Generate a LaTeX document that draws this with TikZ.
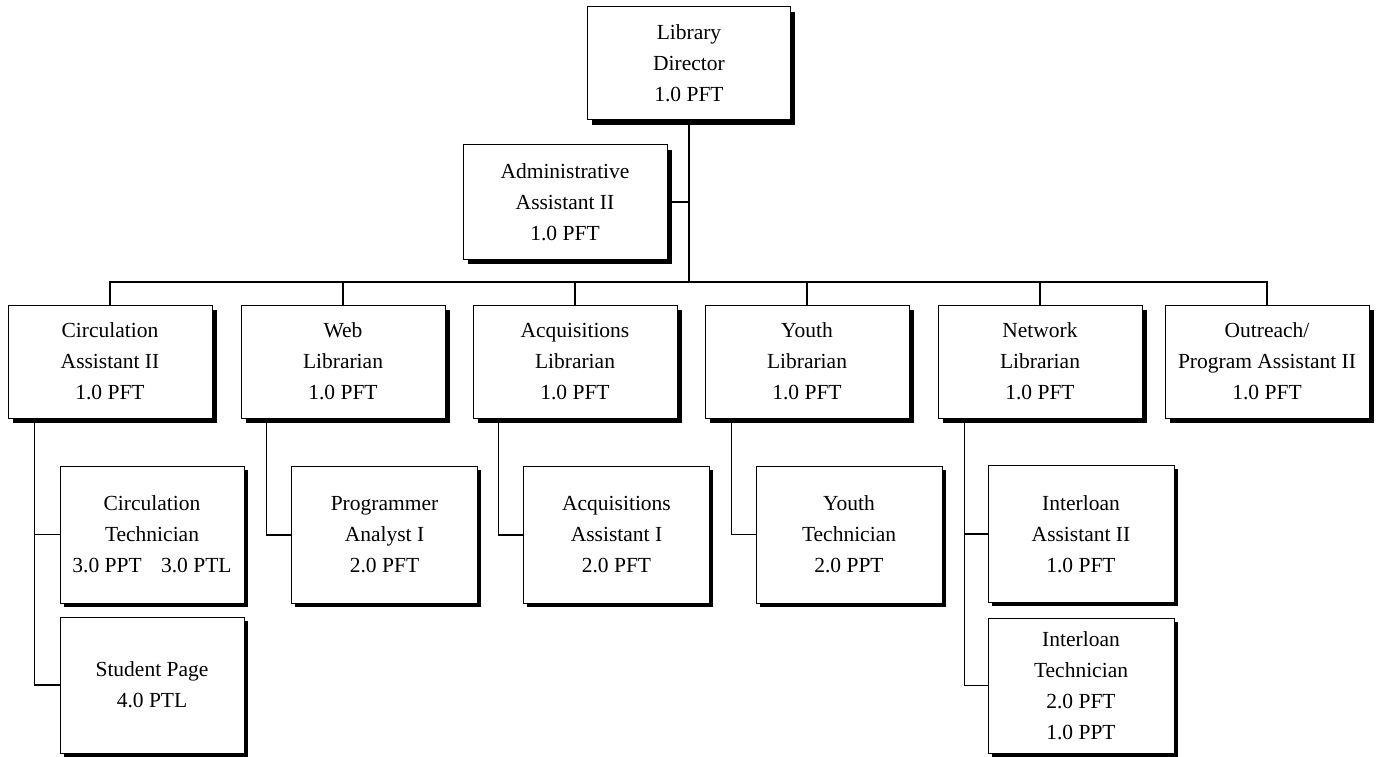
\documentclass[tikz,border=0pt]{standalone}
\usepackage{fontspec}
\setmainfont{Liberation Serif}
\usetikzlibrary{calc,shadows}
\begin{document}
\begin{tikzpicture}[x=1pt,y=-1pt,
  base/.style={rectangle, draw=black, line width=1pt, fill=white, inner sep=0pt, align=center,
    font=\fontsize{21.5}{31}\selectfont,
    preaction={draw=white, line width=3.2pt}},
  topbox/.style={base, minimum width=204pt, minimum height=113pt,
    drop shadow={shadow xshift=4.8pt, shadow yshift=-4.8pt, opacity=1, fill=black}},
  subbox/.style={base, minimum width=186pt, minimum height=137pt,
    drop shadow={shadow xshift=3.8pt, shadow yshift=-3.8pt, opacity=1, fill=black}},
  conn/.style={draw=black, line width=1.3pt}]
\useasboundingbox[fill=white] (0,0) rectangle (1377,757);

% level 0/1
\node[topbox, minimum width=203pt] (dir) at (689,63.5) {Library\\Director\\1.0 PFT};
\node[topbox, minimum height=114pt] (adm) at (565,202) {Administrative\\Assistant II\\1.0 PFT};

% level 2
\node[topbox] (circ)  at (110,361.5)  {Circulation\\Assistant II\\1.0 PFT};
\node[topbox] (web)   at (343,361.5) {Web\\Librarian\\1.0 PFT};
\node[topbox] (acq)   at (575,361.5)  {Acquisitions\\Librarian\\1.0 PFT};
\node[topbox] (youth) at (807,361.5) {Youth\\Librarian\\1.0 PFT};
\node[topbox] (net)   at (1040,361.5) {Network\\Librarian\\1.0 PFT};
\node[topbox] (outr)  at (1267,361.5) {Outreach/\\Program Assistant II\\1.0 PFT};

% level 3
\node[subbox, minimum width=184pt] (ctech) at (152,534.5) {Circulation\\Technician\\3.0 PPT\hspace{0.9em}3.0 PTL};
\node[subbox, minimum width=184pt, minimum height=136pt] (spage) at (152,685) {Student Page\\4.0 PTL};
\node[subbox] (prog)  at (384.5,535) {Programmer\\Analyst I\\2.0 PFT};
\node[subbox] (aasst) at (616.5,535) {Acquisitions\\Assistant I\\2.0 PFT};
\node[subbox] (ytech) at (849,534.5) {Youth\\Technician\\2.0 PPT};
\node[subbox] (iasst) at (1081,534) {Interloan\\Assistant II\\1.0 PFT};
\node[subbox, minimum height=135pt] (itech) at (1081,685.5) {Interloan\\Technician\\2.0 PFT\\1.0 PPT};

% connectors
\coordinate (bus) at (689,282);
\draw[conn] (dir.south) -- (bus);
\draw[conn] (adm.east) -- (adm.east -| bus);
\draw[conn] (circ.north) |- (bus) -| (outr.north);
\foreach \n in {web,acq,youth,net}
  \draw[conn] (\n.north) -- (\n.north |- bus);

\draw[conn] ($(circ.south west)+(27,0)$) |- (ctech.west);
\draw[conn] ($(circ.south west)+(27,0)$) |- (spage.west);
\draw[conn] ($(web.south west)+(26,0)$) |- (prog.west);
\draw[conn] ($(acq.south west)+(26,0)$) |- (aasst.west);
\draw[conn] ($(youth.south west)+(27,0)$) |- (ytech.west);
\draw[conn] ($(net.south west)+(27,0)$) |- (iasst.west);
\draw[conn] ($(net.south west)+(27,0)$) |- (itech.west);
\end{tikzpicture}
\end{document}
